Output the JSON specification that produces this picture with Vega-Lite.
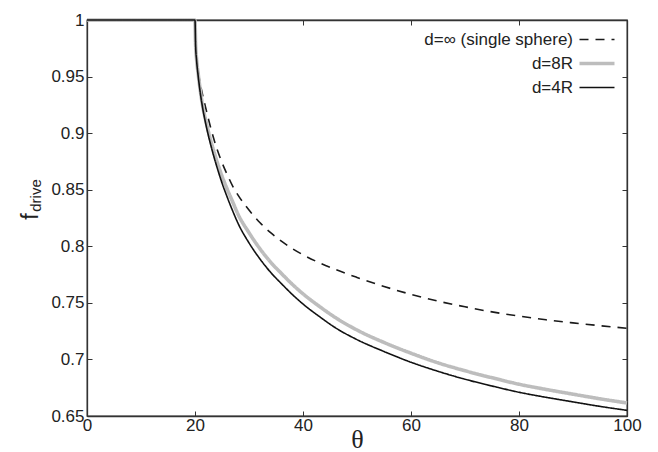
{
  "$schema": "https://vega.github.io/schema/vega-lite/v6.json",
  "width": 540,
  "height": 396,
  "autosize": {"type": "none"},
  "padding": {"left": 87, "top": 20, "right": 31, "bottom": 36},
  "background": "white",
  "config": {
    "view": {"stroke": "#333", "strokeWidth": 1.3},
    "font": "Liberation Sans",
    "axis": {
      "grid": false,
      "domainColor": "#333",
      "domainWidth": 1.3,
      "tickColor": "#333",
      "tickWidth": 1,
      "tickSize": -5,
      "labelFont": "Liberation Sans",
      "labelFontSize": 17,
      "labelColor": "#222",
      "labelFlush": false,
      "labelOverlap": false
    }
  },
  "data": {
    "values": [
      {"series": "d=∞ (single sphere)", "theta": 0, "f": 1},
      {"series": "d=∞ (single sphere)", "theta": 20, "f": 1},
      {"series": "d=∞ (single sphere)", "theta": 20.25, "f": 0.97},
      {"series": "d=∞ (single sphere)", "theta": 20.5, "f": 0.958},
      {"series": "d=∞ (single sphere)", "theta": 21, "f": 0.943},
      {"series": "d=∞ (single sphere)", "theta": 21.5, "f": 0.932},
      {"series": "d=∞ (single sphere)", "theta": 22, "f": 0.922},
      {"series": "d=∞ (single sphere)", "theta": 23, "f": 0.903},
      {"series": "d=∞ (single sphere)", "theta": 24, "f": 0.887},
      {"series": "d=∞ (single sphere)", "theta": 25, "f": 0.874},
      {"series": "d=∞ (single sphere)", "theta": 26, "f": 0.863},
      {"series": "d=∞ (single sphere)", "theta": 27, "f": 0.853},
      {"series": "d=∞ (single sphere)", "theta": 28, "f": 0.845},
      {"series": "d=∞ (single sphere)", "theta": 30, "f": 0.832},
      {"series": "d=∞ (single sphere)", "theta": 32, "f": 0.821},
      {"series": "d=∞ (single sphere)", "theta": 34, "f": 0.812},
      {"series": "d=∞ (single sphere)", "theta": 36, "f": 0.8045},
      {"series": "d=∞ (single sphere)", "theta": 38, "f": 0.798},
      {"series": "d=∞ (single sphere)", "theta": 40, "f": 0.7925},
      {"series": "d=∞ (single sphere)", "theta": 43, "f": 0.7855},
      {"series": "d=∞ (single sphere)", "theta": 46, "f": 0.7795},
      {"series": "d=∞ (single sphere)", "theta": 50, "f": 0.7725},
      {"series": "d=∞ (single sphere)", "theta": 55, "f": 0.7645},
      {"series": "d=∞ (single sphere)", "theta": 60, "f": 0.7575},
      {"series": "d=∞ (single sphere)", "theta": 65, "f": 0.7515},
      {"series": "d=∞ (single sphere)", "theta": 70, "f": 0.7465},
      {"series": "d=∞ (single sphere)", "theta": 75, "f": 0.742},
      {"series": "d=∞ (single sphere)", "theta": 80, "f": 0.7383},
      {"series": "d=∞ (single sphere)", "theta": 85, "f": 0.735},
      {"series": "d=∞ (single sphere)", "theta": 90, "f": 0.7323},
      {"series": "d=∞ (single sphere)", "theta": 95, "f": 0.7298},
      {"series": "d=∞ (single sphere)", "theta": 100, "f": 0.7275},

      {"series": "d=8R", "theta": 0, "f": 1},
      {"series": "d=8R", "theta": 20, "f": 1},
      {"series": "d=8R", "theta": 20.1, "f": 0.98},
      {"series": "d=8R", "theta": 20.3, "f": 0.965},
      {"series": "d=8R", "theta": 20.6, "f": 0.952},
      {"series": "d=8R", "theta": 21, "f": 0.937},
      {"series": "d=8R", "theta": 21.5, "f": 0.922},
      {"series": "d=8R", "theta": 22, "f": 0.911},
      {"series": "d=8R", "theta": 23, "f": 0.892},
      {"series": "d=8R", "theta": 24, "f": 0.876},
      {"series": "d=8R", "theta": 25, "f": 0.862},
      {"series": "d=8R", "theta": 26, "f": 0.85},
      {"series": "d=8R", "theta": 27, "f": 0.839},
      {"series": "d=8R", "theta": 28, "f": 0.828},
      {"series": "d=8R", "theta": 30, "f": 0.812},
      {"series": "d=8R", "theta": 32, "f": 0.798},
      {"series": "d=8R", "theta": 34, "f": 0.786},
      {"series": "d=8R", "theta": 36, "f": 0.776},
      {"series": "d=8R", "theta": 38, "f": 0.7665},
      {"series": "d=8R", "theta": 40, "f": 0.758},
      {"series": "d=8R", "theta": 43, "f": 0.747},
      {"series": "d=8R", "theta": 46, "f": 0.737},
      {"series": "d=8R", "theta": 50, "f": 0.726},
      {"series": "d=8R", "theta": 55, "f": 0.715},
      {"series": "d=8R", "theta": 60, "f": 0.7055},
      {"series": "d=8R", "theta": 65, "f": 0.697},
      {"series": "d=8R", "theta": 70, "f": 0.69},
      {"series": "d=8R", "theta": 75, "f": 0.6838},
      {"series": "d=8R", "theta": 80, "f": 0.6781},
      {"series": "d=8R", "theta": 85, "f": 0.6735},
      {"series": "d=8R", "theta": 90, "f": 0.6693},
      {"series": "d=8R", "theta": 95, "f": 0.6652},
      {"series": "d=8R", "theta": 100, "f": 0.6615},

      {"series": "d=4R", "theta": 0, "f": 1},
      {"series": "d=4R", "theta": 20, "f": 1},
      {"series": "d=4R", "theta": 20.1, "f": 0.979},
      {"series": "d=4R", "theta": 20.3, "f": 0.964},
      {"series": "d=4R", "theta": 20.6, "f": 0.95},
      {"series": "d=4R", "theta": 21, "f": 0.935},
      {"series": "d=4R", "theta": 21.5, "f": 0.92},
      {"series": "d=4R", "theta": 22, "f": 0.908},
      {"series": "d=4R", "theta": 23, "f": 0.888},
      {"series": "d=4R", "theta": 24, "f": 0.871},
      {"series": "d=4R", "theta": 25, "f": 0.856},
      {"series": "d=4R", "theta": 26, "f": 0.843},
      {"series": "d=4R", "theta": 27, "f": 0.831},
      {"series": "d=4R", "theta": 28, "f": 0.82},
      {"series": "d=4R", "theta": 30, "f": 0.803},
      {"series": "d=4R", "theta": 32, "f": 0.789},
      {"series": "d=4R", "theta": 34, "f": 0.777},
      {"series": "d=4R", "theta": 36, "f": 0.767},
      {"series": "d=4R", "theta": 38, "f": 0.7575},
      {"series": "d=4R", "theta": 40, "f": 0.749},
      {"series": "d=4R", "theta": 43, "f": 0.738},
      {"series": "d=4R", "theta": 46, "f": 0.728},
      {"series": "d=4R", "theta": 50, "f": 0.7175},
      {"series": "d=4R", "theta": 55, "f": 0.707},
      {"series": "d=4R", "theta": 60, "f": 0.6975},
      {"series": "d=4R", "theta": 65, "f": 0.6895},
      {"series": "d=4R", "theta": 70, "f": 0.6825},
      {"series": "d=4R", "theta": 75, "f": 0.6765},
      {"series": "d=4R", "theta": 80, "f": 0.671},
      {"series": "d=4R", "theta": 85, "f": 0.6665},
      {"series": "d=4R", "theta": 90, "f": 0.6625},
      {"series": "d=4R", "theta": 95, "f": 0.6585},
      {"series": "d=4R", "theta": 100, "f": 0.655}
    ]
  },
  "layer": [
    {
      "mark": {"type": "line", "clip": false, "interpolate": "monotone"},
      "encoding": {
        "x": {
          "field": "theta", "type": "quantitative",
          "scale": {"domain": [0, 100], "nice": false, "zero": false},
          "axis": {
            "orient": "bottom", "values": [0, 20, 40, 60, 80, 100],
            "labelPadding": 6,
            "title": "θ", "titleFont": "Liberation Serif", "titleFontSize": 26,
            "titleFontWeight": "normal", "titleColor": "#222", "titleY": 10, "titleBaseline": "top"
          }
        },
        "y": {
          "field": "f", "type": "quantitative",
          "scale": {"domain": [0.65, 1], "nice": false, "zero": false},
          "axis": {
            "orient": "left", "values": [0.65, 0.7, 0.75, 0.8, 0.85, 0.9, 0.95, 1],
            "format": ".2~f", "labelPadding": 8,
            "title": "f", "titleFontSize": 23, "titleFontWeight": "normal", "titleColor": "#222",
            "titleAngle": 270, "titleX": -50, "titleY": 196, "titleBaseline": "alphabetic", "titleAlign": "center"
          }
        },
        "color": {
          "field": "series", "type": "nominal",
          "scale": {"domain": ["d=∞ (single sphere)", "d=8R", "d=4R"], "range": ["#1a1a1a", "#bdbdbd", "#111111"]},
          "legend": {
            "title": null, "orient": "none", "legendX": 499, "legendY": 9.5,
            "symbolType": "M-2,0H2M0,-0.7M0,0.7", "symbolSize": 306, "labelAlign": "right", "labelOffset": -35,
            "labelFontSize": 17, "labelColor": "#222", "rowPadding": 0, "padding": 0
          }
        },
        "strokeDash": {
          "field": "series", "type": "nominal",
          "scale": {"domain": ["d=∞ (single sphere)", "d=8R", "d=4R"], "range": [[9, 7], [1, 0], [1, 0]]},
          "legend": {
            "title": null, "orient": "none", "legendX": 499, "legendY": 9.5,
            "symbolType": "M-2,0H2M0,-0.7M0,0.7", "symbolSize": 306, "labelAlign": "right", "labelOffset": -35,
            "labelFontSize": 17, "labelColor": "#222", "rowPadding": 0, "padding": 0
          }
        },
        "strokeWidth": {
          "field": "series", "type": "nominal",
          "scale": {"type": "ordinal", "domain": ["d=∞ (single sphere)", "d=8R", "d=4R"], "range": [1.6, 3.6, 1.6]},
          "legend": {
            "title": null, "orient": "none", "legendX": 499, "legendY": 9.5,
            "symbolType": "M-2,0H2M0,-0.7M0,0.7", "symbolSize": 306, "labelAlign": "right", "labelOffset": -35,
            "labelFontSize": 17, "labelColor": "#222", "rowPadding": 0, "padding": 0
          }
        }
      }
    },
    {
      "mark": {"type": "point", "opacity": 0},
      "encoding": {
        "x": {
          "field": "theta", "type": "quantitative",
          "axis": {"orient": "top", "values": [0, 20, 40, 60, 80, 100], "labels": false, "title": null}
        },
        "y": {
          "field": "f", "type": "quantitative",
          "axis": {
            "orient": "right", "values": [0.65, 0.7, 0.75, 0.8, 0.85, 0.9, 0.95, 1], "labels": false,
            "title": "drive", "titleFontSize": 15, "titleFontWeight": "normal", "titleColor": "#222",
            "titleAngle": 270, "titleX": -587, "titleY": 175, "titleBaseline": "alphabetic", "titleAlign": "center"
          }
        }
      }
    }
  ],
  "resolve": {"axis": {"x": "independent", "y": "independent"}}
}
